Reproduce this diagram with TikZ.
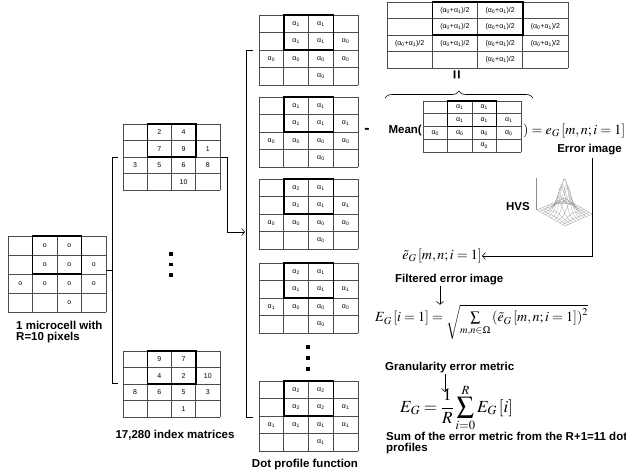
\documentclass[tikz,border=0pt]{standalone}
\usepackage{mathptmx}
\usepackage[no-math]{fontspec}
\setmainfont{Liberation Sans}
\usetikzlibrary{decorations.pathreplacing,arrows.meta}
\newcommand\al[1]{α\textsubscript{#1}}
\newcommand\av{(\al{0}+\al{1})/2}
\newcommand\drawgrid[6]{%
 \begin{scope}[shift={(#2,#3)}]
  \foreach \i in {0,...,4}{
    \draw[gline] ({\i*#4},0) -- ({\i*#4},{4*#5});
    \draw[gline] (0,{\i*#5}) -- ({4*#4},{\i*#5});
  }
  \draw[bbox] ({#4},0) rectangle ({3*#4},{2*#5});
  \foreach \t [count=\k from 0] in {#6}{
    \pgfmathtruncatemacro\rr{floor(\k/4)}
    \pgfmathtruncatemacro\cc{mod(\k,4)}
    \node[cell] (#1-\rr-\cc) at ({(\cc+0.5)*#4},{(\rr+0.5)*#5}) {\t};
  }
 \end{scope}}
\def\hx#1#2{564.5+14*(#1)+13.5*(#2)}
\def\hy#1#2{212+8*(#1)-6*(#2)-33*exp(-6*((#1)*(#1)+(#2)*(#2)))}
\tikzset{
 gline/.style={draw=black!70, line width=0.6pt},
 bbox/.style={draw=black, line width=1.5pt},
 cell/.style={inner sep=0pt, font=\fontsize{7}{8}\selectfont},
 lab/.style={font=\fontsize{11.5}{12}\selectfont\bfseries, inner sep=0pt},
 mth/.style={font=\fontsize{14}{16}\selectfont, inner sep=0pt},
 conn/.style={draw=black, line width=0.6pt},
 arr/.style={conn, -{Straight Barb[length=3pt,width=7pt]}},
 hvs/.style={draw=black!45, line width=0.2pt},
 dotsq/.style={fill=black, minimum size=3.5pt, inner sep=0pt},
}
\begin{document}
\begin{tikzpicture}[x=1pt,y=-1pt]
\useasboundingbox (0,0) rectangle (626,474);
% microcell
\drawgrid{mc}{8}{236}{24.5}{19}{{},o,o,{},{},o,o,o,o,o,o,o,{},{},o,{}}
\node[lab,anchor=west] (mct1) at (16,325) {1 microcell with};
\node[lab,anchor=west] (mct2) at (16,338) {R=10 pixels};
% left bracket
\coordinate (lb1) at (118,157); \coordinate (lb2) at (112,157);
\coordinate (lb3) at (112,383); \coordinate (lb4) at (118,383);
\coordinate (lbm) at (112,270); \coordinate (lbm2) at (106,270);
\draw[conn] (lb1) -- (lb2) -- (lb3) -- (lb4);
\draw[conn] (lbm) -- (lbm2);
% index matrices
\drawgrid{ia}{123}{124}{24.25}{16.5}{{},2,4,{},{},7,9,1,3,5,6,8,{},{},10,{}}
\drawgrid{ib}{123}{351}{24.25}{16.5}{{},9,7,{},{},4,2,10,8,6,5,3,{},{},1,{}}
\node[dotsq] (id1) at (171,254) {};
\node[dotsq] (id2) at (171,264.5) {};
\node[dotsq] (id3) at (171,275) {};
\node[lab] (idx) at (175,435) {17,280 index matrices};
% connector from index matrices to dot profiles
\coordinate (rb1) at (220,157); \coordinate (rb2) at (227,157);
\coordinate (arE) at (245,232);
\draw[arr] (rb1) -- (rb2) |- (arE);
% dot profile bracket
\coordinate (db1) at (253,50); \coordinate (db2) at (246,50);
\coordinate (db3) at (246,417); \coordinate (db4) at (253,417);
\draw[conn] (db1) -- (db2) -- (db3) -- (db4);
% dot profiles
\drawgrid{d1}{259}{15}{24.75}{17.5}{{},\al1,\al1,{},{},\al1,\al1,\al0,\al0,\al0,\al0,\al0,{},{},\al0,{}}
\drawgrid{d2}{259}{97}{24.75}{17.5}{{},\al1,\al1,{},{},\al1,\al1,\al1,\al0,\al0,\al0,\al0,{},{},\al0,{}}
\drawgrid{d3}{259}{179}{24.75}{17.5}{{},\al2,\al1,{},{},\al1,\al1,\al1,\al0,\al0,\al0,\al0,{},{},\al0,{}}
\drawgrid{d4}{259}{263}{24.75}{17.5}{{},\al2,\al1,{},{},\al1,\al1,\al1,\al1,\al0,\al0,\al0,{},{},\al0,{}}
\drawgrid{d5}{259}{381}{24.75}{17.5}{{},\al2,\al2,{},{},\al2,\al2,\al1,\al1,\al1,\al1,\al1,{},{},\al1,{}}
\node[dotsq] (dd1) at (308,347) {};
\node[dotsq] (dd2) at (308,358) {};
\node[dotsq] (dd3) at (308,369) {};
\node[lab] (dpf) at (305,465) {Dot profile function};
% mean matrix
\drawgrid{mm}{387}{2}{45.25}{16.5}{{},\av,\av,{},{},\av,\av,\av,\av,\av,\av,\av,{},{},\av,{}}
\node[font=\fontsize{16}{16}\selectfont\bfseries, rotate=90, inner sep=0pt] (eqv) at (458,75) {=};
\draw[conn, decorate, decoration={brace, amplitude=7pt}] (385,98) -- (533,98);
% mean of dot profile
\node[font=\fontsize{16}{16}\selectfont\bfseries, inner sep=0pt] (minus) at (367,131) {-};
\node[lab, anchor=east] (mean) at (422,131) {Mean(};
\drawgrid{mg}{423}{101}{24.5}{12.75}{{},\al1,\al1,{},{},\al1,\al1,\al1,\al0,\al0,\al0,\al0,{},{},\al0,{}}
\node[mth, anchor=west] (eg) at (523,131) {$)=e_G\left[m,n;i=1\right]$};
\node[lab, anchor=east] (err) at (622,150) {Error image};
% HVS
\node[lab] (hvsl) at (518,207) {HVS};
\foreach \i in {0,...,10}{
  \pgfmathsetmacro\vv{-1+\i/5}
  \draw[hvs] plot[domain=-1:1, samples=31, smooth] ({\hx{\x}{\vv}},{\hy{\x}{\vv}});
  \draw[hvs] plot[domain=-1:1, samples=31, smooth] ({\hx{\vv}{\x}},{\hy{\vv}{\x}});
}
\draw[hvs] (536.5,210) -- (536.5,178);
% filtered error
\node[mth, anchor=east] (etil) at (482,256) {$\tilde{e}_G\left[m,n;i=1\right]$};
\coordinate (ec) at (592,158);
\draw[arr] (ec) |- (etil.east);
\node[lab, anchor=west] (filt) at (395,280) {Filtered error image};
\node[mth, anchor=west] (eg1) at (375,322) {$E_G\left[i=1\right]=\sqrt{\sum\limits_{m,n\in\Omega}\left(\tilde{e}_G\left[m,n;i=1\right]\right)^2}$};
\draw[arr] (filt.south -| 440,0) -- (eg1.north -| 440,0);
\node[lab, anchor=west] (gran) at (385,368) {Granularity error metric};
\node[font=\fontsize{17}{19}\selectfont, inner sep=0pt, anchor=west] (eg2) at (400,408) {$\displaystyle E_G=\frac{1}{R}\sum_{i=0}^{R}E_G\left[i\right]$};
\draw[arr] (gran.south -| 445,0) -- (445,392);
\node[lab, anchor=west] (sum1) at (386,436) {Sum of the error metric from the R+1=11 dot};
\node[lab, anchor=west] (sum2) at (386,449) {profiles};
\end{tikzpicture}
\end{document}
